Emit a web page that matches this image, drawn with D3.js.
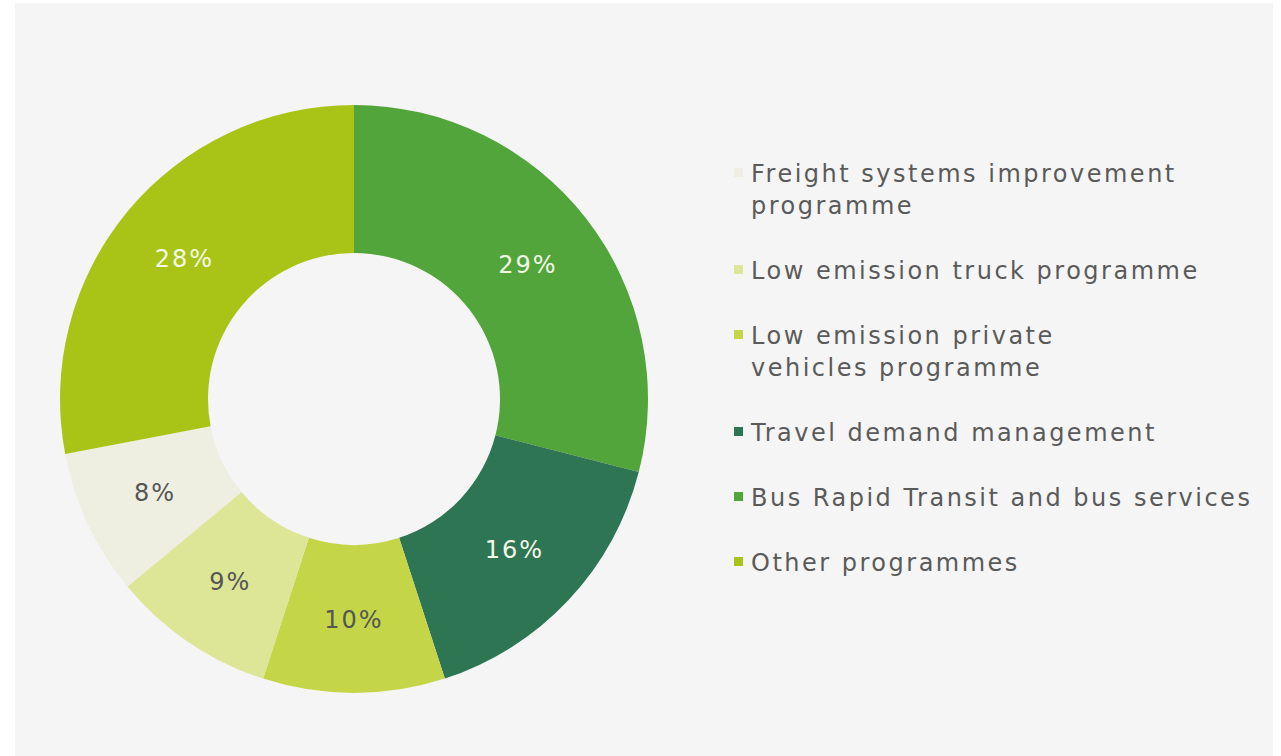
<!DOCTYPE html>
<html>
<head>
<meta charset="utf-8">
<script src="https://cdn.jsdelivr.net/npm/d3@7"></script>
<style>
  html, body { margin: 0; padding: 0; background: #ffffff; }
  svg { display: block; }
  text { font-family: "DejaVu Sans", sans-serif; }
</style>
</head>
<body>
<svg id="chart" width="1281" height="756"></svg>
<script>
/* ── Data ─────────────────────────────────────────────── */
// slices, clockwise from 12 o'clock
const categories = [
  "Bus Rapid Transit and bus services",
  "Travel demand management",
  "Low emission private vehicles programme",
  "Low emission truck programme",
  "Freight systems improvement programme",
  "Other programmes"
];
const shares = [29, 16, 10, 9, 8, 28];

// legend order + line breaks as printed
const legendOrder = [4, 3, 2, 1, 0, 5];
const legendLines = [
  ["Freight systems improvement", "programme"],
  ["Low emission truck programme"],
  ["Low emission private", "vehicles programme"],
  ["Travel demand management"],
  ["Bus Rapid Transit and bus services"],
  ["Other programmes"]
];

/* ── Styles ───────────────────────────────────────────── */
const colors = ["#52a53a", "#2e7554", "#c4d648", "#dde596", "#eeefe1", "#a9c417"];
const labelFill = ["#f4f8e8", "#f4f8e8", "#555555", "#555555", "#555555", "#f4f8e8"];

const svg = d3.select("#chart");
svg.append("rect")
  .attr("x", 15).attr("y", 3).attr("width", 1258).attr("height", 753)
  .attr("fill", "#f5f5f5");

/* ── Donut ────────────────────────────────────────────── */
const cx = 354, cy = 399;
const rOuter = 294, rInner = 146;

const pie = d3.pie().sort(null).value(d => d);
const arc = d3.arc().innerRadius(rInner).outerRadius(rOuter);

const g = svg.append("g").attr("transform", `translate(${cx},${cy})`);
const slices = pie(shares);

g.selectAll("path").data(slices).join("path")
  .attr("d", arc)
  .attr("fill", (d, i) => colors[i]);

g.selectAll("text.pct").data(slices).join("text")
  .attr("class", "pct")
  .attr("transform", d => `translate(${arc.centroid(d)})`)
  .attr("text-anchor", "middle")
  .attr("dy", "0.36em")
  .attr("font-size", 24)
  .attr("letter-spacing", 2)
  .attr("fill", (d, i) => labelFill[i])
  .text(d => d.data + "%");

/* ── Legend ───────────────────────────────────────────── */
const lineH = 32, itemGap = 65;
let base = 182;
const leg = svg.append("g");
legendOrder.forEach((ci, k) => {
  const lines = legendLines[k];
  const item = leg.append("g");
  item.append("rect")
    .attr("x", 734).attr("y", base - 14)
    .attr("width", 9).attr("height", 9)
    .attr("fill", colors[ci]);
  lines.forEach((t, j) => {
    item.append("text")
      .attr("x", 751).attr("y", base + j * lineH)
      .attr("font-size", 24)
      .attr("letter-spacing", 2.5)
      .attr("fill", "#5a5a5a")
      .text(t);
  });
  base += (lines.length - 1) * lineH + itemGap;
});
</script>
</body>
</html>
